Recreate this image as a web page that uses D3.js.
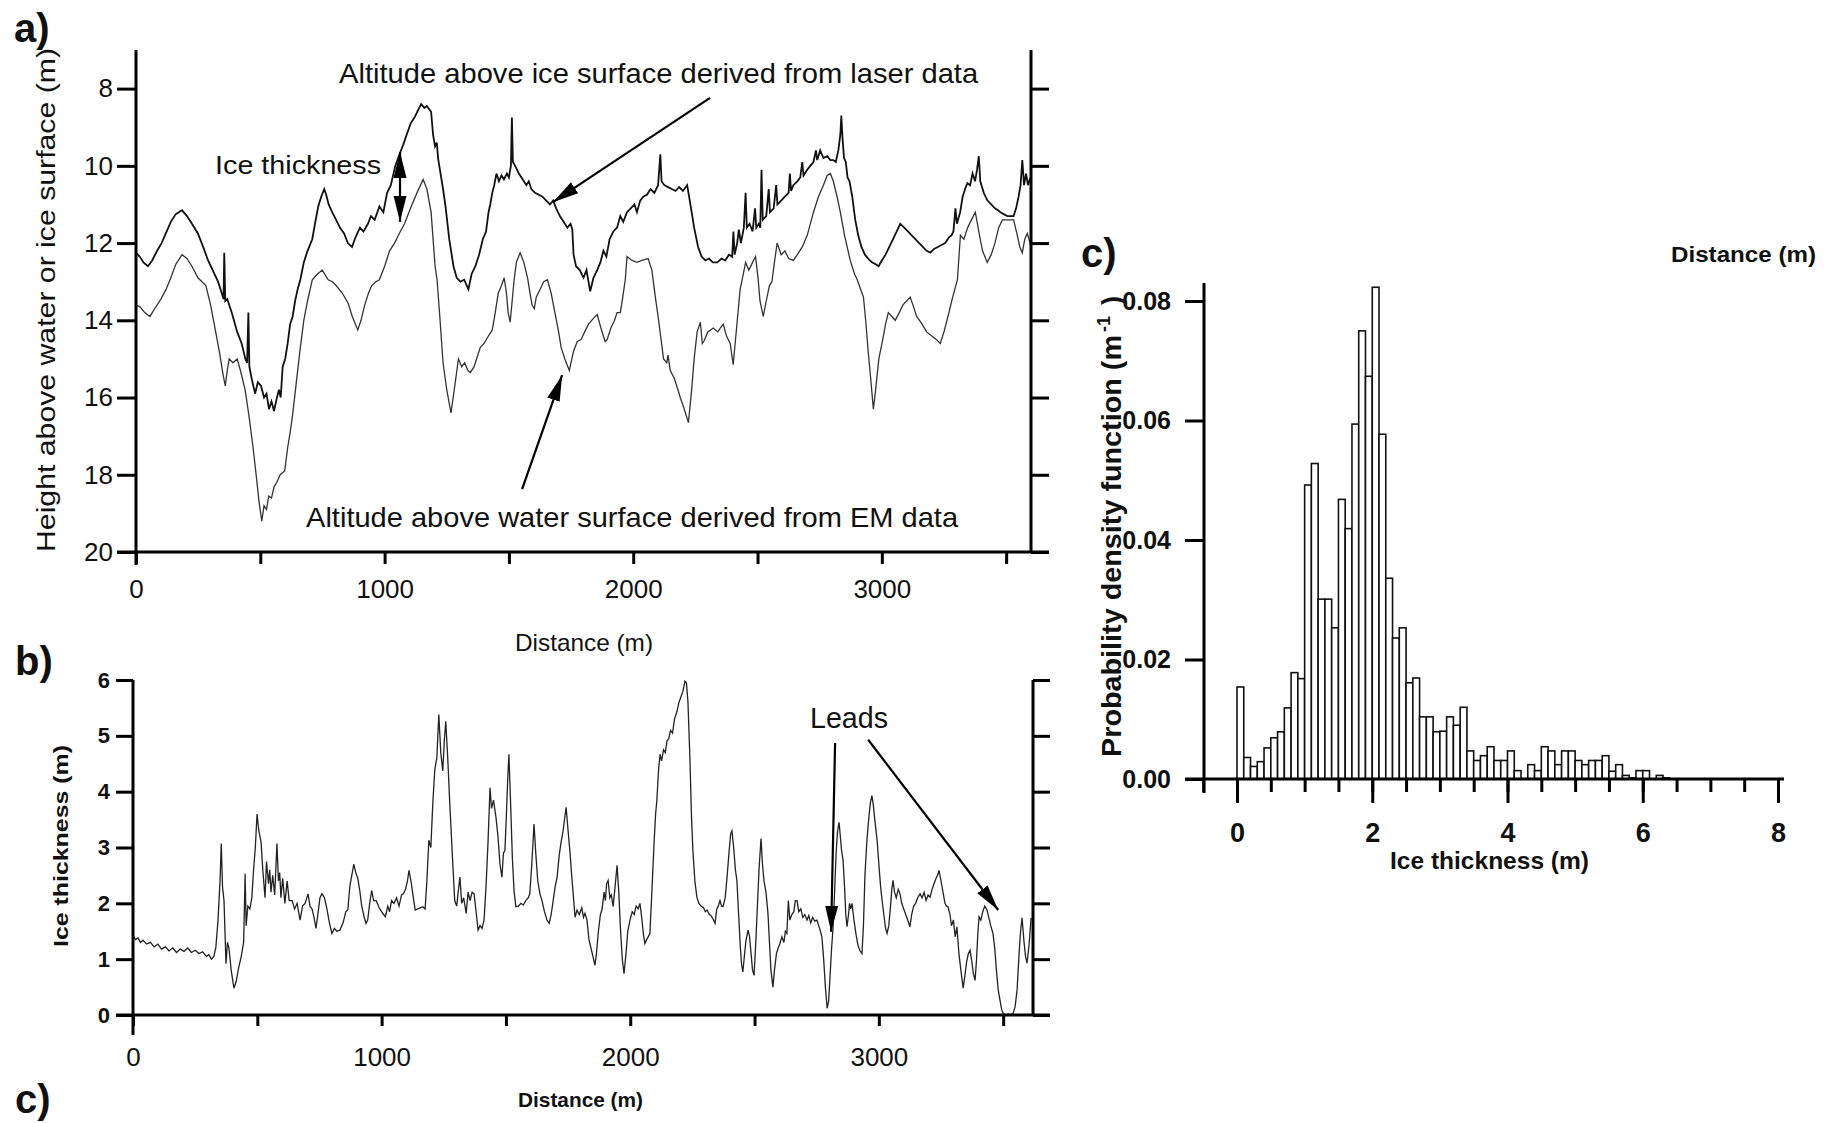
<!DOCTYPE html>
<html>
<head>
<meta charset="utf-8">
<script src="https://cdn.jsdelivr.net/npm/d3@7"></script>
<style>
  body { margin: 0; background: #fff; }
  text { font-family: "Liberation Sans", Arial, Helvetica, sans-serif; fill: #111; }
</style>
</head>
<body>
<script>

// ---- panel a: altitude from laser (ice surface) and EM (water surface), [distance m, height m]
var laserAlt = [[0,12.25],[15,12.35],[30,12.5],[48,12.6],[65,12.45],[85,12.2],[103,12.0],[120,11.75],[140,11.45],[160,11.25],[185,11.15],[205,11.3],[225,11.5],[249,11.75],[270,12.1],[290,12.45],[312,12.75],[330,13.0],[345,13.3],[352,13.45],[355,12.25],[359,13.5],[367,13.45],[385,13.8],[407,14.3],[425,14.6],[440,15.0],[447,15.1],[452,13.8],[456,15.2],[465,15.5],[479,15.9],[490,15.6],[503,15.7],[515,16.0],[525,15.9],[535,16.3],[545,16.1],[555,16.35],[567,16.0],[575,15.8],[582,16.0],[590,15.2],[600,15.0],[610,14.6],[620,14.1],[630,13.9],[640,13.5],[650,13.2],[661,12.95],[675,12.5],[690,12.2],[709,11.9],[720,11.5],[733,11.05],[745,10.8],[757,10.6],[765,10.75],[775,11.0],[789,11.2],[805,11.4],[820,11.6],[837,11.75],[852,12.0],[869,12.1],[880,11.9],[890,11.75],[901,11.6],[915,11.7],[933,11.5],[945,11.3],[960,11.4],[979,11.05],[995,11.2],[1010,10.7],[1025,10.5],[1043,10.0],[1060,9.7],[1075,9.45],[1091,9.15],[1105,8.9],[1120,8.75],[1135,8.55],[1147,8.4],[1160,8.5],[1170,8.45],[1187,8.6],[1195,9.2],[1203,9.5],[1210,9.4],[1215,9.8],[1225,10.2],[1235,10.6],[1245,11.05],[1260,11.9],[1277,12.6],[1290,12.9],[1305,13.0],[1320,12.95],[1337,13.2],[1350,12.8],[1365,12.6],[1380,12.3],[1395,11.9],[1408,11.7],[1418,11.2],[1425,11.0],[1433,10.7],[1441,10.5],[1450,10.2],[1460,10.4],[1470,10.25],[1480,10.35],[1492,10.2],[1500,10.3],[1508,10.0],[1512,8.75],[1516,9.9],[1525,10.0],[1540,10.2],[1555,10.35],[1570,10.5],[1580,10.4],[1590,10.6],[1605,10.7],[1620,10.75],[1635,10.8],[1650,10.9],[1665,11.0],[1678,10.9],[1690,11.1],[1705,11.3],[1720,11.45],[1735,11.6],[1748,11.5],[1755,11.65],[1760,12.3],[1770,12.6],[1785,12.7],[1800,12.9],[1812,12.7],[1827,13.25],[1840,12.9],[1855,12.7],[1868,12.5],[1880,12.2],[1892,12.35],[1905,11.9],[1920,11.7],[1935,11.6],[1948,11.3],[1960,11.45],[1975,11.2],[1990,11.1],[2005,11.0],[2015,11.2],[2028,10.9],[2040,10.8],[2055,10.75],[2070,10.6],[2085,10.7],[2100,10.5],[2109,9.7],[2114,10.4],[2125,10.5],[2140,10.55],[2155,10.6],[2170,10.65],[2185,10.55],[2200,10.65],[2217,10.5],[2230,11.0],[2245,11.6],[2261,12.1],[2275,12.35],[2290,12.45],[2305,12.4],[2320,12.5],[2338,12.5],[2355,12.4],[2370,12.45],[2385,12.3],[2398,12.35],[2403,11.7],[2408,12.3],[2418,12.0],[2425,11.65],[2433,12.0],[2445,11.6],[2452,10.7],[2457,11.6],[2468,11.5],[2480,11.7],[2490,11.1],[2495,11.6],[2505,11.5],[2511,11.6],[2516,10.1],[2521,11.4],[2535,11.3],[2545,10.6],[2550,11.2],[2565,11.1],[2575,10.5],[2580,11.0],[2595,10.9],[2610,10.8],[2625,10.7],[2630,10.2],[2635,10.65],[2644,10.5],[2660,10.4],[2672,10.3],[2680,9.9],[2685,10.25],[2700,10.1],[2712,10.0],[2725,9.9],[2735,9.6],[2740,9.85],[2752,9.6],[2765,9.8],[2780,9.75],[2793,9.85],[2805,9.85],[2815,9.9],[2825,9.6],[2833,9.2],[2837,8.7],[2842,9.3],[2848,9.8],[2855,9.9],[2862,10.3],[2870,10.4],[2881,10.8],[2893,11.4],[2905,11.8],[2918,12.1],[2932,12.3],[2945,12.4],[2960,12.5],[2975,12.55],[2987,12.6],[3000,12.45],[3015,12.3],[3030,12.1],[3045,11.9],[3060,11.7],[3074,11.5],[3090,11.6],[3105,11.7],[3120,11.8],[3135,11.9],[3150,12.0],[3165,12.1],[3180,12.2],[3195,12.25],[3210,12.15],[3225,12.1],[3240,12.05],[3255,12.0],[3270,11.85],[3280,11.8],[3288,11.7],[3296,11.1],[3302,11.5],[3315,11.2],[3325,10.8],[3335,10.6],[3344,10.45],[3355,10.5],[3365,10.2],[3375,10.4],[3383,10.1],[3390,9.75],[3396,10.4],[3410,10.7],[3425,10.9],[3440,11.0],[3455,11.1],[3467,11.15],[3477,11.2],[3490,11.25],[3505,11.3],[3520,11.3],[3530,11.3],[3540,11.1],[3550,10.8],[3558,10.5],[3565,9.85],[3572,10.5],[3580,10.2],[3588,10.5],[3595,10.35],[3600,10.4]];

var emAlt = [[0,13.6],[16,13.65],[35,13.8],[56,13.9],[75,13.7],[100,13.45],[121,13.2],[140,12.9],[160,12.55],[185,12.3],[205,12.4],[225,12.6],[249,12.9],[281,13.1],[300,13.6],[319,14.25],[335,14.8],[350,15.4],[359,15.7],[367,15.3],[375,15.0],[390,15.1],[407,15.0],[420,15.3],[439,15.8],[455,16.5],[471,17.3],[485,18.1],[495,18.7],[506,19.2],[515,18.8],[525,18.9],[534,18.55],[545,18.6],[556,18.3],[566,18.2],[580,18.0],[598,17.9],[610,17.3],[620,16.9],[629,16.5],[645,15.6],[661,14.7],[675,14.0],[690,13.5],[709,12.95],[730,12.8],[749,12.7],[773,12.95],[790,13.0],[805,13.1],[830,13.3],[853,13.55],[870,13.9],[892,14.25],[905,14.0],[920,13.6],[935,13.3],[948,13.1],[965,13.0],[979,12.95],[1000,12.6],[1020,12.2],[1040,12.0],[1059,11.75],[1080,11.5],[1107,11.05],[1130,10.7],[1155,10.35],[1170,10.6],[1187,11.2],[1203,12.6],[1211,12.95],[1222,13.9],[1235,15.1],[1250,15.8],[1267,16.4],[1280,15.8],[1297,15.0],[1310,15.2],[1322,15.1],[1335,15.3],[1345,15.35],[1360,15.2],[1375,14.9],[1385,14.7],[1400,14.6],[1418,14.4],[1433,14.25],[1445,13.8],[1457,13.3],[1470,13.1],[1481,12.9],[1490,13.3],[1497,13.8],[1505,14.05],[1513,13.5],[1521,12.95],[1530,12.5],[1545,12.25],[1560,12.5],[1575,12.9],[1585,13.3],[1593,13.6],[1602,13.7],[1610,13.4],[1625,13.2],[1640,13.0],[1655,12.95],[1670,13.3],[1685,13.8],[1700,14.3],[1710,14.7],[1725,15.0],[1743,15.3],[1760,14.8],[1775,14.55],[1790,14.5],[1805,14.3],[1820,14.1],[1840,13.95],[1855,13.85],[1870,14.2],[1887,14.55],[1895,14.5],[1910,14.2],[1925,14.0],[1935,13.8],[1948,13.8],[1958,13.4],[1968,12.95],[1975,12.35],[1995,12.45],[2015,12.5],[2035,12.45],[2060,12.4],[2075,12.7],[2089,13.4],[2100,13.9],[2110,14.4],[2122,15.0],[2135,15.1],[2140,14.9],[2149,15.3],[2165,15.5],[2180,15.8],[2189,16.0],[2200,16.2],[2210,16.4],[2222,16.65],[2235,15.8],[2245,15.0],[2257,14.3],[2270,14.05],[2278,14.6],[2284,14.55],[2300,14.3],[2322,14.2],[2340,14.3],[2350,14.2],[2362,14.1],[2375,14.4],[2390,14.6],[2402,15.15],[2410,14.6],[2420,13.9],[2430,13.2],[2438,12.95],[2452,12.5],[2465,12.7],[2480,12.5],[2492,12.35],[2502,12.9],[2510,13.5],[2523,13.9],[2535,13.5],[2548,13.1],[2558,13.0],[2570,12.4],[2579,12.0],[2595,12.3],[2610,12.2],[2625,12.4],[2644,12.45],[2660,12.3],[2680,12.1],[2700,11.8],[2725,11.2],[2745,10.8],[2765,10.5],[2780,10.25],[2793,10.2],[2805,10.4],[2820,10.8],[2833,11.2],[2850,11.8],[2873,12.45],[2890,12.8],[2901,12.95],[2915,13.2],[2926,13.4],[2935,14.0],[2945,14.8],[2955,15.5],[2966,16.3],[2975,15.8],[2988,15.0],[3002,14.55],[3015,14.1],[3026,13.8],[3040,13.9],[3054,14.0],[3070,13.8],[3085,13.6],[3100,13.5],[3114,13.4],[3125,13.6],[3140,13.9],[3162,14.1],[3180,14.3],[3200,14.4],[3220,14.5],[3235,14.6],[3250,14.3],[3268,13.85],[3285,13.4],[3304,12.95],[3316,11.8],[3330,11.9],[3345,11.6],[3360,11.4],[3376,11.2],[3390,11.7],[3405,12.2],[3424,12.5],[3440,12.3],[3455,12.0],[3470,11.6],[3485,11.4],[3500,11.4],[3515,11.4],[3530,11.4],[3545,11.8],[3555,12.1],[3565,12.25],[3575,11.9],[3585,11.75],[3592,11.9],[3600,12.1]];

// ---- panel b: ice thickness along the profile, [distance m, thickness m]
var thickness = [[0,1.42],[10,1.35],[20,1.38],[30,1.3],[40,1.34],[55,1.27],[70,1.3],[85,1.22],[100,1.27],[115,1.18],[130,1.22],[145,1.15],[160,1.2],[175,1.12],[190,1.18],[205,1.14],[220,1.2],[235,1.12],[250,1.16],[265,1.1],[280,1.13],[295,1.05],[305,1.08],[315,1.0],[325,1.05],[333,1.2],[342,1.7],[350,2.4],[355,3.07],[360,2.3],[366,2.05],[374,0.92],[380,1.3],[386,1.2],[395,0.8],[406,0.48],[415,0.6],[425,0.85],[435,1.04],[445,1.3],[451,2.53],[455,1.6],[462,1.95],[470,1.9],[478,2.1],[485,2.6],[492,3.0],[499,3.6],[506,3.3],[515,3.1],[522,2.6],[531,2.1],[537,2.75],[545,2.35],[550,2.6],[555,2.2],[562,2.5],[570,2.15],[579,3.07],[585,2.4],[590,2.55],[595,2.1],[602,2.45],[611,2.0],[620,2.4],[628,2.05],[640,2.05],[650,1.9],[660,2.0],[672,1.7],[682,1.95],[692,2.0],[704,2.17],[712,1.95],[720,1.9],[728,1.75],[736,1.55],[745,1.85],[752,2.1],[760,2.17],[770,2.1],[780,1.9],[790,1.65],[800,1.46],[810,1.55],[820,1.5],[832,1.52],[845,1.65],[856,1.85],[864,1.88],[872,2.3],[880,2.5],[888,2.7],[896,2.55],[904,2.45],[912,2.23],[920,1.95],[930,1.75],[937,1.64],[944,1.7],[952,2.0],[960,2.23],[968,2.05],[978,2.05],[990,1.92],[1000,1.85],[1008,1.8],[1015,1.76],[1025,1.95],[1032,1.85],[1040,2.05],[1050,2.0],[1060,2.1],[1070,1.95],[1080,2.15],[1088,2.17],[1096,2.25],[1104,2.4],[1110,2.59],[1118,2.4],[1126,2.15],[1135,1.88],[1145,1.9],[1155,1.92],[1166,1.94],[1175,1.9],[1182,2.4],[1190,3.13],[1198,3.0],[1206,3.8],[1214,4.4],[1222,4.6],[1230,5.38],[1238,4.7],[1246,4.37],[1252,4.9],[1258,5.26],[1266,4.6],[1274,3.8],[1284,2.9],[1294,2.05],[1302,1.95],[1308,2.2],[1315,2.47],[1322,2.0],[1330,2.1],[1340,1.82],[1348,2.2],[1356,2.05],[1364,2.2],[1372,2.17],[1380,1.85],[1388,1.52],[1396,1.6],[1404,1.55],[1412,1.7],[1420,2.3],[1428,3.1],[1436,4.07],[1442,3.7],[1450,3.85],[1460,3.54],[1468,3.2],[1476,2.7],[1484,2.47],[1490,2.9],[1496,2.95],[1502,3.6],[1507,4.2],[1512,4.67],[1518,3.9],[1526,2.8],[1533,2.2],[1540,1.94],[1550,1.95],[1560,2.0],[1570,1.97],[1580,2.05],[1590,2.1],[1596,2.17],[1604,2.7],[1613,3.42],[1620,2.9],[1628,2.4],[1637,2.17],[1645,2.05],[1655,1.85],[1665,1.7],[1674,1.64],[1682,1.8],[1690,2.05],[1698,2.3],[1706,2.47],[1714,2.85],[1722,3.1],[1730,3.3],[1737,3.55],[1742,3.72],[1750,3.3],[1758,2.9],[1764,2.53],[1770,2.2],[1778,1.75],[1786,1.88],[1795,1.8],[1805,1.92],[1812,1.75],[1818,1.82],[1826,1.7],[1834,1.35],[1842,1.2],[1850,1.05],[1858,0.89],[1864,1.1],[1872,1.5],[1880,1.8],[1886,1.88],[1895,2.2],[1900,2.05],[1905,2.35],[1911,2.41],[1918,2.1],[1924,2.15],[1931,1.94],[1938,2.25],[1947,2.68],[1954,2.2],[1960,1.6],[1968,1.0],[1975,0.74],[1983,1.1],[1990,1.5],[1999,1.7],[2008,1.85],[2016,1.8],[2024,1.95],[2032,1.9],[2039,2.0],[2046,1.75],[2053,1.45],[2059,1.28],[2066,1.35],[2072,1.4],[2079,1.46],[2088,2.3],[2096,3.1],[2102,3.6],[2107,3.84],[2114,4.4],[2120,4.67],[2126,4.55],[2134,4.75],[2141,4.7],[2148,4.91],[2155,4.95],[2162,5.1],[2170,5.05],[2178,5.3],[2188,5.44],[2196,5.6],[2204,5.7],[2212,5.8],[2220,5.98],[2226,5.95],[2232,5.62],[2240,4.6],[2246,3.6],[2252,2.95],[2260,2.4],[2268,2.11],[2276,2.0],[2285,1.95],[2295,1.92],[2302,1.85],[2309,1.88],[2318,1.8],[2325,1.78],[2333,1.72],[2341,1.64],[2348,1.9],[2354,1.95],[2361,2.05],[2367,1.95],[2373,1.94],[2382,2.1],[2390,2.5],[2398,2.95],[2404,3.25],[2409,3.3],[2416,3.0],[2423,2.6],[2429,2.41],[2436,1.8],[2443,1.2],[2448,0.9],[2453,0.77],[2460,1.1],[2466,1.35],[2474,1.52],[2480,1.4],[2486,1.1],[2492,0.8],[2498,0.71],[2505,1.3],[2512,2.0],[2518,2.6],[2526,3.16],[2532,2.7],[2538,2.4],[2546,2.2],[2554,1.82],[2560,1.3],[2566,0.8],[2574,0.5],[2580,0.8],[2588,1.1],[2595,1.2],[2602,1.28],[2610,1.4],[2618,1.3],[2624,1.5],[2630,1.46],[2636,2.05],[2642,1.7],[2650,1.8],[2658,1.85],[2664,2.05],[2671,2.05],[2678,1.85],[2686,1.9],[2694,1.75],[2702,1.8],[2711,1.7],[2718,1.78],[2726,1.65],[2734,1.75],[2742,1.68],[2751,1.7],[2758,1.6],[2765,1.5],[2771,1.4],[2778,1.0],[2785,0.5],[2792,0.12],[2798,0.25],[2805,0.8],[2810,1.2],[2816,1.58],[2822,2.2],[2828,2.9],[2834,3.3],[2840,3.45],[2845,3.2],[2850,2.95],[2856,2.77],[2862,2.3],[2867,1.8],[2872,1.58],[2878,1.8],[2882,2.0],[2887,1.9],[2892,2.0],[2900,1.7],[2908,1.45],[2916,1.25],[2924,1.15],[2932,1.1],[2938,1.6],[2944,2.5],[2952,3.13],[2960,3.55],[2966,3.8],[2972,3.93],[2978,3.75],[2986,3.4],[2993,3.13],[3000,2.7],[3007,2.3],[3013,2.05],[3020,1.8],[3027,1.55],[3033,1.46],[3040,1.6],[3047,1.95],[3052,2.25],[3057,2.41],[3063,2.2],[3070,2.1],[3078,2.25],[3085,2.17],[3092,2.0],[3100,1.9],[3108,1.8],[3116,1.7],[3125,1.58],[3132,1.8],[3140,1.95],[3148,2.0],[3156,2.1],[3166,2.17],[3174,2.1],[3182,2.2],[3190,2.05],[3198,2.15],[3206,2.11],[3214,2.25],[3222,2.35],[3230,2.45],[3236,2.5],[3242,2.59],[3250,2.4],[3258,2.2],[3266,2.0],[3272,1.95],[3278,1.94],[3286,1.8],[3292,1.6],[3300,1.7],[3307,1.4],[3314,1.58],[3322,1.1],[3330,0.8],[3339,0.48],[3346,0.7],[3353,0.95],[3360,1.1],[3367,1.16],[3374,0.95],[3380,0.75],[3387,0.62],[3393,1.0],[3398,1.45],[3403,1.76],[3410,1.7],[3418,1.85],[3426,1.95],[3435,1.88],[3442,1.75],[3450,1.6],[3459,1.46],[3466,1.2],[3473,0.8],[3480,0.45],[3487,0.27],[3494,0.1],[3500,0.03],[3510,0.0],[3520,0.02],[3530,0.0],[3540,0.03],[3548,0.15],[3556,0.45],[3564,1.1],[3570,1.5],[3576,1.74],[3584,1.3],[3590,1.05],[3596,0.93],[3604,1.25],[3612,1.72],[3616,1.73]];

// ---- panel c: probability density of ice thickness, 0.1 m bins starting at 0
var binWidth = 0.1;
var pdfValues = [0.0154,0.0036,0.0021,0.0029,0.0052,0.0069,0.0079,0.0119,0.0178,0.0168,
  0.0492,0.0528,0.0301,0.0301,0.0253,0.0468,0.0419,0.0594,0.0750,0.0674,
  0.0823,0.0577,0.0336,0.0236,0.0253,0.0161,0.0169,0.0104,0.0104,0.0079,
  0.0080,0.0104,0.0090,0.0120,0.0047,0.0031,0.0039,0.0054,0.0031,0.0031,
  0.0047,0.0014,0.0000,0.0024,0.0014,0.0054,0.0047,0.0024,0.0047,0.0047,
  0.0031,0.0024,0.0031,0.0031,0.0039,0.0013,0.0024,0.0006,0.0002,0.0014,
  0.0014,0.0000,0.0006,0.0002];

// tick values
var ticksAltitude = [8, 10, 12, 14, 16, 18, 20];
var ticksDistance = [0, 500, 1000, 1500, 2000, 2500, 3000, 3500];
var ticksThickness = [0, 1, 2, 3, 4, 5, 6];
var ticksPdf = [0, 0.02, 0.04, 0.06, 0.08];
var ticksHistMajor = [0, 2, 4, 6, 8];
var ticksHistMinor = d3.range(-0.5, 8.01, 0.5);


var svg = d3.select("body").append("svg")
    .attr("width", 1834).attr("height", 1123);

var defs = svg.append("defs");
defs.append("marker").attr("id", "head")
    .attr("viewBox", "0 -8 26 16")
    .attr("refX", 26).attr("refY", 0)
    .attr("markerUnits", "userSpaceOnUse")
    .attr("markerWidth", 26).attr("markerHeight", 16)
    .attr("orient", "auto-start-reverse")
    .append("path").attr("d", "M0,-6.5L26,0L0,6.5Z").attr("fill", "#000");

function label(x, y, str, size, weight, len, anchor) {
    var t = svg.append("text")
        .attr("x", x).attr("y", y)
        .attr("font-size", size)
        .attr("font-weight", weight || "normal")
        .attr("text-anchor", anchor || "start")
        .text(str);
    if (len) t.attr("textLength", len).attr("lengthAdjust", "spacingAndGlyphs");
    return t;
}

function vlabel(x, yBottom, str, size, weight, len) {
    svg.append("text")
        .attr("transform", "translate(" + x + "," + yBottom + ") rotate(-90)")
        .attr("font-size", size)
        .attr("font-weight", weight || "normal")
        .attr("textLength", len).attr("lengthAdjust", "spacingAndGlyphs")
        .text(str);
}

function styleAxis(g, size, weight) {
    g.select(".domain").remove();
    g.selectAll(".tick line").attr("stroke", "#000").attr("stroke-width", 3);
    g.selectAll(".tick text")
        .attr("font-size", size)
        .attr("font-weight", weight || "normal")
        .attr("font-family", "'Liberation Sans', Arial, sans-serif")
        .attr("fill", "#111");
}

function axisLine(x1, y1, x2, y2) {
    svg.append("line")
        .attr("x1", x1).attr("y1", y1).attr("x2", x2).attr("y2", y2)
        .attr("stroke", "#000").attr("stroke-width", 3);
}

function arrow(x1, y1, x2, y2, both) {
    var l = svg.append("line")
        .attr("x1", x1).attr("y1", y1).attr("x2", x2).attr("y2", y2)
        .attr("stroke", "#000").attr("stroke-width", 2.2)
        .attr("marker-end", "url(#head)");
    if (both) l.attr("marker-start", "url(#head)");
}

// ================= panel a =================
var xA = d3.scaleLinear().domain([0, 3600]).range([136, 1031]);
var yA = d3.scaleLinear().domain([7, 20]).range([50, 552]);

var lineA = d3.line().x(function (d) { return xA(d[0]); }).y(function (d) { return yA(d[1]); });

svg.append("path").datum(emAlt).attr("d", lineA)
    .attr("fill", "none").attr("stroke", "#333").attr("stroke-width", 1.3);
svg.append("path").datum(laserAlt).attr("d", lineA)
    .attr("fill", "none").attr("stroke", "#111").attr("stroke-width", 1.8);

svg.append("g").attr("transform", "translate(" + xA(0) + ",0)")
    .call(d3.axisLeft(yA).tickValues(ticksAltitude).tickSize(19).tickPadding(4).tickFormat(d3.format("d")))
    .call(styleAxis, 26);
svg.append("g").attr("transform", "translate(" + xA(3600) + ",0)")
    .call(d3.axisRight(yA).tickValues(ticksAltitude).tickSize(18).tickFormat(""))
    .call(styleAxis, 26);
svg.append("g").attr("transform", "translate(0," + yA(20) + ")")
    .call(d3.axisBottom(xA).tickValues(ticksDistance).tickSize(12).tickPadding(16)
        .tickFormat(function (d) { return d % 1000 === 0 ? d : ""; }))
    .call(styleAxis, 26);

axisLine(xA(0), yA(7), xA(0), yA(20) + 13);
axisLine(xA(3600), yA(7), xA(3600), yA(20));
axisLine(xA(0) - 19, yA(20), xA(3600) + 18, yA(20));

label(14, 42, "a)", 40, "bold");
vlabel(55, 552, "Height above water or ice surface (m)", 25, "normal", 504);
label(515, 651, "Distance (m)", 24, "normal", 138);

label(xA(817), yA(7.85), "Altitude above ice surface derived from laser data", 28, "normal", 639);
label(xA(684), yA(19.35), "Altitude above water surface derived from EM data", 28, "normal", 652);
label(xA(318), yA(10.2), "Ice thickness", 26, "normal", 166);

arrow(xA(2309), yA(8.24), xA(1677), yA(10.94));
arrow(xA(1553), yA(18.37), xA(1714), yA(15.42));
arrow(xA(1062), yA(9.64), xA(1062), yA(11.45), true);

// ================= panel b =================
var xB = d3.scaleLinear().domain([0, 3620]).range([133, 1033]);
var yB = d3.scaleLinear().domain([0, 6]).range([1015, 680]);

svg.append("path").datum(thickness)
    .attr("d", d3.line().x(function (d) { return xB(d[0]); }).y(function (d) { return yB(d[1]); }))
    .attr("fill", "none").attr("stroke", "#222").attr("stroke-width", 1.3);

svg.append("g").attr("transform", "translate(" + xB(0) + ",0)")
    .call(d3.axisLeft(yB).tickValues(ticksThickness).tickSize(17).tickPadding(6).tickFormat(d3.format("d")))
    .call(styleAxis, 22, "bold");
svg.append("g").attr("transform", "translate(" + xB(3620) + ",0)")
    .call(d3.axisRight(yB).tickValues(ticksThickness).tickSize(17).tickFormat(""))
    .call(styleAxis, 22);
svg.append("g").attr("transform", "translate(0," + yB(0) + ")")
    .call(d3.axisBottom(xB).tickValues(ticksDistance).tickSize(11).tickPadding(22)
        .tickFormat(function (d) { return d % 1000 === 0 ? d : ""; }))
    .call(styleAxis, 26);

axisLine(xB(0), yB(6), xB(0), yB(0) + 20);
axisLine(xB(3620), yB(6), xB(3620), yB(0));
axisLine(xB(0) - 17, yB(0), xB(3620) + 17, yB(0));

label(15, 675, "b)", 40, "bold");
label(15, 1113, "c)", 40, "bold");
vlabel(68, 947, "Ice thickness (m)", 20, "bold", 202);
label(518, 1107, "Distance (m)", 21, "bold", 125);

label(xB(2723), yB(5.14), "Leads", 30, "normal", 78);
arrow(xB(2824), yB(4.87), xB(2808), yB(1.49));
arrow(xB(2957), yB(4.93), xB(3480), yB(1.88));

// ================= panel c =================
var xC = d3.scaleLinear().domain([0, 8]).range([1237, 1778]);
var yC = d3.scaleLinear().domain([0, 0.08]).range([779, 301]);

svg.selectAll("rect.bar")
    .data(pdfValues.map(function (v, i) { return { x0: i * binWidth, v: v }; })
        .filter(function (d) { return d.v > 0; }))
    .enter().append("rect")
    .attr("class", "bar")
    .attr("x", function (d) { return xC(d.x0); })
    .attr("width", xC(binWidth) - xC(0))
    .attr("y", function (d) { return yC(d.v); })
    .attr("height", function (d) { return yC(0) - yC(d.v); })
    .attr("fill", "#fff").attr("stroke", "#111").attr("stroke-width", 1.6);

svg.append("g").attr("transform", "translate(1204,0)")
    .call(d3.axisLeft(yC).tickValues(ticksPdf).tickSize(19).tickPadding(14).tickFormat(d3.format(".2f")))
    .call(styleAxis, 25, "bold");
svg.append("g").attr("transform", "translate(0," + yC(0) + ")")
    .call(d3.axisBottom(xC).tickValues(ticksHistMinor).tickSize(13).tickFormat(""))
    .call(styleAxis, 27);
svg.append("g").attr("transform", "translate(0," + yC(0) + ")")
    .call(d3.axisBottom(xC).tickValues(ticksHistMajor).tickSize(24).tickPadding(20).tickFormat(d3.format("d")))
    .call(styleAxis, 27, "bold");

axisLine(1204, 283, 1204, yC(0) + 14);
axisLine(1185, yC(0), 1784, yC(0));

label(1081, 267, "c)", 40, "bold");
label(1671, 262, "Distance (m)", 22, "bold", 145);
label(1390, 869, "Ice thickness (m)", 24, "bold", 199);

var yl = svg.append("g").attr("transform", "translate(1121,757) rotate(-90)");
yl.append("text").attr("x", 0).attr("y", 0)
    .attr("font-size", 27).attr("font-weight", "bold")
    .attr("textLength", 422).attr("lengthAdjust", "spacingAndGlyphs")
    .text("Probability density function (m");
yl.append("text").attr("x", 425).attr("y", -11)
    .attr("font-size", 18).attr("font-weight", "bold")
    .text("-1");
yl.append("text").attr("x", 452).attr("y", 0)
    .attr("font-size", 27).attr("font-weight", "bold")
    .text(")");

</script>
</body>
</html>
